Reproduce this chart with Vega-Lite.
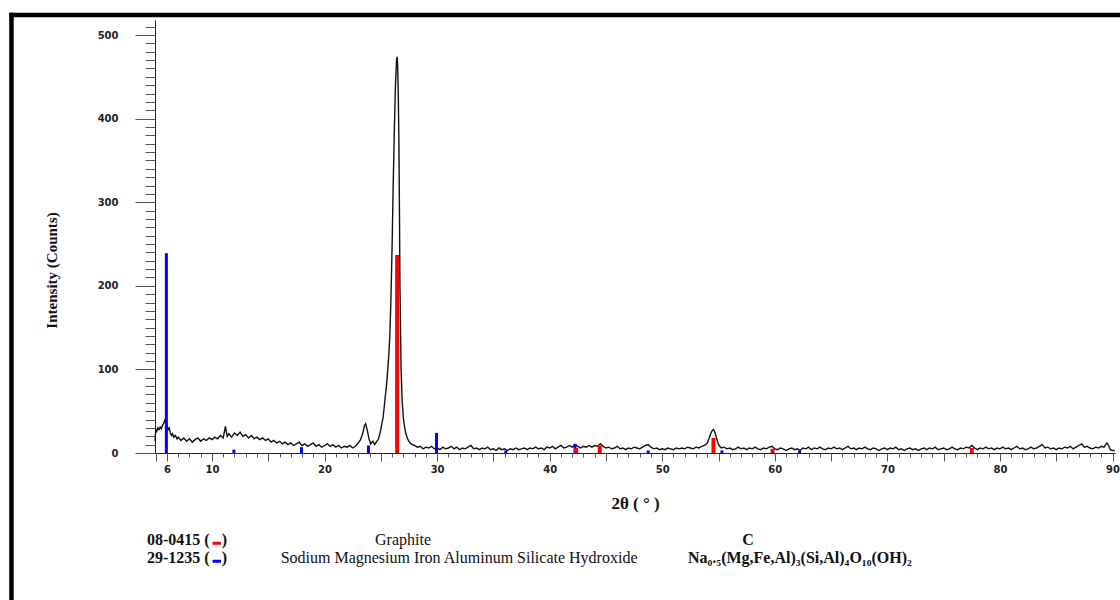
{
  "$schema": "https://vega.github.io/schema/vega-lite/v6.json",
  "width": 960,
  "height": 433,
  "autosize": {"type": "none"},
  "padding": {"left": 155, "top": 20, "right": 5, "bottom": 147},
  "background": "white",
  "config": {
    "view": {"stroke": null},
    "axis": {"grid": false, "domainColor": "#222", "domainWidth": 1, "tickColor": "#555", "tickWidth": 1, "labelFont": "DejaVu Sans", "labelFontWeight": "bold", "labelFontSize": 10, "labelColor": "#222"}
  },
  "resolve": {"axis": {"x": "independent", "y": "independent"}},
  "datasets": {
    "pattern": [
      {"angle":4.95,"counts":14},{"angle":5.0,"counts":29},{"angle":5.1,"counts":26},{"angle":5.2,"counts":30},{"angle":5.3,"counts":28},{"angle":5.4,"counts":31},{"angle":5.5,"counts":29},{"angle":5.6,"counts":33},{"angle":5.7,"counts":35},{"angle":5.8,"counts":39},{"angle":5.9,"counts":36},{"angle":6.0,"counts":33},{"angle":6.1,"counts":28},{"angle":6.2,"counts":30},{"angle":6.3,"counts":24},{"angle":6.4,"counts":21},{"angle":6.5,"counts":23},{"angle":6.6,"counts":19},{"angle":6.75,"counts":21},{"angle":6.9,"counts":17},
      {"angle":7.0,"counts":19},{"angle":7.25,"counts":15},{"angle":7.5,"counts":18},{"angle":7.75,"counts":14},{"angle":8.0,"counts":17},{"angle":8.25,"counts":13},{"angle":8.5,"counts":16},{"angle":8.75,"counts":18},{"angle":9.0,"counts":14},{"angle":9.25,"counts":17},{"angle":9.5,"counts":15},{"angle":9.75,"counts":18},{"angle":10.0,"counts":16},{"angle":10.25,"counts":19},{"angle":10.5,"counts":17},{"angle":10.75,"counts":21},{"angle":11.0,"counts":18},{"angle":11.2,"counts":32},{"angle":11.35,"counts":20},{"angle":11.5,"counts":23},{"angle":11.75,"counts":19},
      {"angle":12.0,"counts":24},{"angle":12.25,"counts":21},{"angle":12.5,"counts":25},{"angle":12.75,"counts":20},{"angle":13.0,"counts":22},{"angle":13.25,"counts":18},{"angle":13.5,"counts":21},{"angle":13.75,"counts":17},{"angle":14.0,"counts":19},{"angle":14.25,"counts":16},{"angle":14.5,"counts":18},{"angle":14.75,"counts":15},{"angle":15.0,"counts":17},{"angle":15.25,"counts":13},{"angle":15.5,"counts":15},{"angle":15.75,"counts":12},{"angle":16.0,"counts":14},{"angle":16.25,"counts":11},{"angle":16.5,"counts":13},{"angle":16.75,"counts":10},
      {"angle":17.0,"counts":12},{"angle":17.25,"counts":9},{"angle":17.5,"counts":11},{"angle":17.75,"counts":13},{"angle":18.0,"counts":9},{"angle":18.25,"counts":11},{"angle":18.5,"counts":8},{"angle":18.75,"counts":10},{"angle":19.0,"counts":12},{"angle":19.25,"counts":8},{"angle":19.5,"counts":10},{"angle":19.75,"counts":7},{"angle":20.0,"counts":9},{"angle":20.25,"counts":11},{"angle":20.5,"counts":8},{"angle":20.75,"counts":10},{"angle":21.0,"counts":7},{"angle":21.25,"counts":9},{"angle":21.5,"counts":6},{"angle":21.75,"counts":8},
      {"angle":22.0,"counts":7},{"angle":22.25,"counts":9},{"angle":22.5,"counts":6},{"angle":22.75,"counts":8},{"angle":23.0,"counts":12},{"angle":23.2,"counts":16},{"angle":23.4,"counts":24},{"angle":23.55,"counts":33},{"angle":23.65,"counts":35},{"angle":23.8,"counts":27},{"angle":23.95,"counts":17},{"angle":24.1,"counts":11},{"angle":24.3,"counts":14},{"angle":24.45,"counts":10},{"angle":24.6,"counts":13},{"angle":24.8,"counts":17},
      {"angle":25.0,"counts":28},{"angle":25.1,"counts":36},{"angle":25.2,"counts":42},{"angle":25.3,"counts":55},{"angle":25.4,"counts":68},{"angle":25.5,"counts":80},{"angle":25.6,"counts":97},{"angle":25.7,"counts":115},{"angle":25.8,"counts":140},{"angle":25.9,"counts":185},{"angle":26.0,"counts":246},{"angle":26.1,"counts":320},{"angle":26.2,"counts":386},{"angle":26.3,"counts":440},{"angle":26.4,"counts":470},{"angle":26.45,"counts":474},{"angle":26.5,"counts":462},{"angle":26.55,"counts":430},{"angle":26.6,"counts":380},{"angle":26.65,"counts":300},{"angle":26.7,"counts":200},{"angle":26.75,"counts":150},{"angle":26.8,"counts":100},{"angle":26.9,"counts":62},{"angle":27.0,"counts":42},{"angle":27.1,"counts":32},{"angle":27.2,"counts":25},{"angle":27.3,"counts":20},{"angle":27.45,"counts":15},{"angle":27.6,"counts":12},{"angle":27.8,"counts":10},
      {"angle":28.0,"counts":9},{"angle":28.25,"counts":7},{"angle":28.5,"counts":8},{"angle":28.75,"counts":5},{"angle":29.0,"counts":7},{"angle":29.25,"counts":6},{"angle":29.5,"counts":8},{"angle":29.75,"counts":5},{"angle":30.0,"counts":6},{"angle":30.25,"counts":4},{"angle":30.5,"counts":7},{"angle":30.75,"counts":5},{"angle":31.0,"counts":6},{"angle":31.25,"counts":8},{"angle":31.5,"counts":5},{"angle":31.75,"counts":7},{"angle":32.0,"counts":4},{"angle":32.25,"counts":6},{"angle":32.5,"counts":5},{"angle":32.75,"counts":7},
      {"angle":33.0,"counts":9},{"angle":33.25,"counts":5},{"angle":33.5,"counts":6},{"angle":33.75,"counts":4},{"angle":34.0,"counts":6},{"angle":34.25,"counts":5},{"angle":34.5,"counts":7},{"angle":34.75,"counts":4},{"angle":35.0,"counts":5},{"angle":35.25,"counts":3},{"angle":35.5,"counts":6},{"angle":35.75,"counts":4},{"angle":36.0,"counts":5},{"angle":36.25,"counts":3},{"angle":36.5,"counts":5},{"angle":36.75,"counts":4},{"angle":37.0,"counts":6},{"angle":37.25,"counts":4},{"angle":37.5,"counts":5},{"angle":37.75,"counts":6},
      {"angle":38.0,"counts":4},{"angle":38.25,"counts":6},{"angle":38.5,"counts":5},{"angle":38.75,"counts":7},{"angle":39.0,"counts":5},{"angle":39.25,"counts":6},{"angle":39.5,"counts":4},{"angle":39.75,"counts":7},{"angle":40.0,"counts":6},{"angle":40.25,"counts":8},{"angle":40.5,"counts":5},{"angle":40.75,"counts":7},{"angle":41.0,"counts":9},{"angle":41.25,"counts":6},{"angle":41.5,"counts":7},{"angle":41.75,"counts":9},{"angle":42.0,"counts":7},{"angle":42.25,"counts":10},{"angle":42.5,"counts":8},{"angle":42.75,"counts":6},
      {"angle":43.0,"counts":8},{"angle":43.25,"counts":7},{"angle":43.5,"counts":9},{"angle":43.75,"counts":7},{"angle":44.0,"counts":9},{"angle":44.25,"counts":8},{"angle":44.5,"counts":11},{"angle":44.75,"counts":8},{"angle":45.0,"counts":6},{"angle":45.25,"counts":7},{"angle":45.5,"counts":5},{"angle":45.75,"counts":6},{"angle":46.0,"counts":8},{"angle":46.25,"counts":5},{"angle":46.5,"counts":6},{"angle":46.75,"counts":4},{"angle":47.0,"counts":6},{"angle":47.25,"counts":5},{"angle":47.5,"counts":7},{"angle":47.75,"counts":6},
      {"angle":48.0,"counts":5},{"angle":48.25,"counts":7},{"angle":48.5,"counts":9},{"angle":48.75,"counts":10},{"angle":49.0,"counts":7},{"angle":49.25,"counts":5},{"angle":49.5,"counts":6},{"angle":49.75,"counts":4},{"angle":50.0,"counts":5},{"angle":50.25,"counts":4},{"angle":50.5,"counts":6},{"angle":50.75,"counts":5},{"angle":51.0,"counts":4},{"angle":51.25,"counts":6},{"angle":51.5,"counts":5},{"angle":51.75,"counts":6},{"angle":52.0,"counts":5},{"angle":52.25,"counts":7},{"angle":52.5,"counts":6},{"angle":52.75,"counts":5},
      {"angle":53.0,"counts":7},{"angle":53.25,"counts":6},{"angle":53.5,"counts":8},{"angle":53.75,"counts":9},{"angle":54.0,"counts":12},{"angle":54.15,"counts":17},{"angle":54.3,"counts":23},{"angle":54.45,"counts":27},{"angle":54.55,"counts":28},{"angle":54.65,"counts":26},{"angle":54.8,"counts":19},{"angle":54.95,"counts":12},{"angle":55.1,"counts":8},{"angle":55.25,"counts":6},{"angle":55.5,"counts":7},{"angle":55.75,"counts":5},
      {"angle":56.0,"counts":6},{"angle":56.25,"counts":4},{"angle":56.5,"counts":5},{"angle":56.75,"counts":7},{"angle":57.0,"counts":5},{"angle":57.25,"counts":6},{"angle":57.5,"counts":4},{"angle":57.75,"counts":6},{"angle":58.0,"counts":5},{"angle":58.25,"counts":7},{"angle":58.5,"counts":5},{"angle":58.75,"counts":4},{"angle":59.0,"counts":6},{"angle":59.25,"counts":5},{"angle":59.5,"counts":7},{"angle":59.75,"counts":8},{"angle":60.0,"counts":5},{"angle":60.25,"counts":4},{"angle":60.5,"counts":6},{"angle":60.75,"counts":5},
      {"angle":61.0,"counts":3},{"angle":61.25,"counts":5},{"angle":61.5,"counts":6},{"angle":61.75,"counts":4},{"angle":62.0,"counts":5},{"angle":62.25,"counts":3},{"angle":62.5,"counts":6},{"angle":62.75,"counts":5},{"angle":63.0,"counts":7},{"angle":63.25,"counts":4},{"angle":63.5,"counts":6},{"angle":63.75,"counts":5},{"angle":64.0,"counts":7},{"angle":64.25,"counts":5},{"angle":64.5,"counts":4},{"angle":64.75,"counts":6},{"angle":65.0,"counts":5},{"angle":65.25,"counts":7},{"angle":65.5,"counts":5},{"angle":65.75,"counts":6},
      {"angle":66.0,"counts":4},{"angle":66.25,"counts":6},{"angle":66.5,"counts":8},{"angle":66.75,"counts":5},{"angle":67.0,"counts":6},{"angle":67.25,"counts":4},{"angle":67.5,"counts":6},{"angle":67.75,"counts":5},{"angle":68.0,"counts":7},{"angle":68.25,"counts":5},{"angle":68.5,"counts":4},{"angle":68.75,"counts":6},{"angle":69.0,"counts":5},{"angle":69.25,"counts":3},{"angle":69.5,"counts":5},{"angle":69.75,"counts":6},{"angle":70.0,"counts":4},{"angle":70.25,"counts":6},{"angle":70.5,"counts":5},{"angle":70.75,"counts":7},
      {"angle":71.0,"counts":4},{"angle":71.25,"counts":5},{"angle":71.5,"counts":3},{"angle":71.75,"counts":5},{"angle":72.0,"counts":6},{"angle":72.25,"counts":4},{"angle":72.5,"counts":5},{"angle":72.75,"counts":3},{"angle":73.0,"counts":5},{"angle":73.25,"counts":6},{"angle":73.5,"counts":4},{"angle":73.75,"counts":6},{"angle":74.0,"counts":5},{"angle":74.25,"counts":7},{"angle":74.5,"counts":4},{"angle":74.75,"counts":5},{"angle":75.0,"counts":6},{"angle":75.25,"counts":4},{"angle":75.5,"counts":5},{"angle":75.75,"counts":7},
      {"angle":76.0,"counts":5},{"angle":76.25,"counts":4},{"angle":76.5,"counts":6},{"angle":76.75,"counts":5},{"angle":77.0,"counts":7},{"angle":77.25,"counts":6},{"angle":77.5,"counts":9},{"angle":77.75,"counts":6},{"angle":78.0,"counts":4},{"angle":78.25,"counts":6},{"angle":78.5,"counts":5},{"angle":78.75,"counts":7},{"angle":79.0,"counts":5},{"angle":79.25,"counts":6},{"angle":79.5,"counts":4},{"angle":79.75,"counts":6},{"angle":80.0,"counts":5},{"angle":80.25,"counts":7},{"angle":80.5,"counts":5},{"angle":80.75,"counts":6},
      {"angle":81.0,"counts":4},{"angle":81.25,"counts":6},{"angle":81.5,"counts":8},{"angle":81.75,"counts":5},{"angle":82.0,"counts":6},{"angle":82.25,"counts":4},{"angle":82.5,"counts":5},{"angle":82.75,"counts":7},{"angle":83.0,"counts":5},{"angle":83.25,"counts":6},{"angle":83.5,"counts":8},{"angle":83.75,"counts":10},{"angle":84.0,"counts":6},{"angle":84.25,"counts":7},{"angle":84.5,"counts":5},{"angle":84.75,"counts":6},{"angle":85.0,"counts":4},{"angle":85.25,"counts":6},{"angle":85.5,"counts":5},{"angle":85.75,"counts":7},
      {"angle":86.0,"counts":6},{"angle":86.25,"counts":8},{"angle":86.5,"counts":5},{"angle":86.75,"counts":7},{"angle":87.0,"counts":9},{"angle":87.25,"counts":11},{"angle":87.5,"counts":7},{"angle":87.75,"counts":8},{"angle":88.0,"counts":6},{"angle":88.25,"counts":5},{"angle":88.5,"counts":7},{"angle":88.75,"counts":6},{"angle":89.0,"counts":8},{"angle":89.25,"counts":7},{"angle":89.5,"counts":12},{"angle":89.65,"counts":9},{"angle":89.8,"counts":4},{"angle":90.0,"counts":3},{"angle":90.2,"counts":3}
    ],
    "sticks": [
      {"angle":5.95,"counts":239,"pattern":"29-1235"},
      {"angle":11.95,"counts":4,"pattern":"29-1235"},
      {"angle":17.95,"counts":7,"pattern":"29-1235"},
      {"angle":23.9,"counts":9,"pattern":"29-1235"},
      {"angle":29.95,"counts":24,"pattern":"29-1235"},
      {"angle":36.1,"counts":3,"pattern":"29-1235"},
      {"angle":42.25,"counts":11,"pattern":"29-1235"},
      {"angle":48.75,"counts":3,"pattern":"29-1235"},
      {"angle":55.3,"counts":3,"pattern":"29-1235"},
      {"angle":62.2,"counts":3,"pattern":"29-1235"},
      {"angle":26.45,"counts":237,"pattern":"08-0415"},
      {"angle":42.35,"counts":6,"pattern":"08-0415"},
      {"angle":44.45,"counts":9,"pattern":"08-0415"},
      {"angle":54.55,"counts":18,"pattern":"08-0415"},
      {"angle":59.8,"counts":5,"pattern":"08-0415"},
      {"angle":77.5,"counts":6,"pattern":"08-0415"}
    ],
    "legend": [
      {"pattern":"08-0415","phase":"Graphite","formula":"C"},
      {"pattern":"29-1235","phase":"Sodium Magnesium Iron Aluminum Silicate Hydroxide","formula":"Na₀.₅(Mg,Fe,Al)₃(Si,Al)₄O₁₀(OH)₂"}
    ]
  },
  "layer": [
    {
      "data": {"name": "pattern"},
      "mark": {"type": "line", "color": "#111", "strokeWidth": 1.4},
      "encoding": {
        "x": {
          "field": "angle", "type": "quantitative",
          "scale": {"domain": [4.94, 90.22], "nice": false, "zero": false},
          "axis": {
            "orient": "bottom",
            "values": [5,6,10,15,20,25,30,35,40,45,50,55,60,65,70,75,80,85,90],
            "tickCount": 500,
            "format": "d",
            "labelExpr": "datum.value % 10 === 0 || datum.value === 6 ? datum.label : ''",
            "labelOverlap": false,
            "labelFlush": false,
            "tickSize": 8,
            "labelPadding": 3,
            "title": "2θ ( ° )",
            "titleFont": "Liberation Serif",
            "titleFontSize": 17,
            "titleFontWeight": "bold",
            "titleColor": "#111",
            "titleY": 50,
            "titleBaseline": "middle"
          }
        },
        "y": {
          "field": "counts", "type": "quantitative",
          "scale": {"domain": [0, 518], "nice": false},
          "axis": {
            "orient": "left",
            "values": [0,100,200,300,400,500],
            "tickCount": 500,
            "format": "d",
            "labelOverlap": false,
            "labelFlush": false,
            "tickSize": 20,
            "labelPadding": 17,
            "title": "Intensity (Counts)",
            "titleFont": "Liberation Serif",
            "titleFontSize": 15,
            "titleFontWeight": "bold",
            "titleColor": "#111",
            "titleX": -104,
            "titleY": 250,
            "titleAngle": -90,
            "titleAlign": "center",
            "titleBaseline": "middle"
          }
        }
      }
    },
    {
      "data": {"name": "sticks"},
      "mark": {"type": "rule"},
      "encoding": {
        "x": {"field": "angle", "type": "quantitative", "axis": {
          "orient": "bottom",
          "values": [5,6,7,8,9,10,11,12,13,14,15,16,17,18,19,20,21,22,23,24,25,26,27,28,29,30,31,32,33,34,35,36,37,38,39,40,41,42,43,44,45,46,47,48,49,50,51,52,53,54,55,56,57,58,59,60,61,62,63,64,65,66,67,68,69,70,71,72,73,74,75,76,77,78,79,80,81,82,83,84,85,86,87,88,89,90],
          "tickCount": 500, "tickSize": 4, "labels": false, "domain": false, "title": null}},
        "y": {"field": "counts", "type": "quantitative", "axis": {
          "orient": "left",
          "values": [0,10,20,30,40,50,60,70,80,90,100,110,120,130,140,150,160,170,180,190,200,210,220,230,240,250,260,270,280,290,300,310,320,330,340,350,360,370,380,390,400,410,420,430,440,450,460,470,480,490,500,510],
          "tickCount": 500, "tickSize": 10, "labels": false, "domain": false, "title": null}},
        "y2": {"datum": 0},
        "color": {"field": "pattern", "type": "nominal", "scale": {"domain": ["08-0415", "29-1235"], "range": ["#ff0000", "#0000ff"]}, "legend": null},
        "strokeWidth": {"field": "pattern", "type": "nominal", "scale": {"domain": ["08-0415", "29-1235"], "range": [4, 3]}, "legend": null}
      }
    },
    {
      "data": {"values": [{}]},
      "mark": {"type": "rule", "color": "#000", "strokeWidth": 4.5},
      "encoding": {"x": {"datum": -7.81, "axis": null}, "y": {"datum": 526.8, "axis": null}, "y2": {"datum": -200}}
    },
    {
      "data": {"values": [{}]},
      "mark": {"type": "rule", "color": "#000", "strokeWidth": 4.5},
      "encoding": {"x": {"datum": -8.0, "axis": null}, "x2": {"datum": 100}, "y": {"datum": 524, "axis": null}}
    },
    {
      "data": {"name": "legend"},
      "transform": [{"filter": "datum.pattern === '08-0415'"}],
      "encoding": {"y": {"datum": -104, "axis": null}},
      "layer": [
        {"transform": [{"calculate": "datum.pattern + ' ('", "as": "code"}], "mark": {"type": "text", "align": "left", "baseline": "middle", "font": "Liberation Serif", "fontWeight": "bold", "fontSize": 16, "color": "#111"}, "encoding": {"x": {"datum": 4.23, "axis": null}, "text": {"field": "code"}}},
        {"mark": {"type": "rule", "strokeWidth": 3}, "encoding": {"x": {"datum": 10.05, "axis": null}, "x2": {"datum": 10.8}, "y": {"datum": -108, "axis": null}, "color": {"field": "pattern", "type": "nominal", "legend": null}}},
        {"mark": {"type": "text", "align": "left", "baseline": "middle", "font": "Liberation Serif", "fontWeight": "bold", "fontSize": 16, "color": "#111", "text": ")"}, "encoding": {"x": {"datum": 10.87, "axis": null}}},
        {"mark": {"type": "text", "align": "center", "baseline": "middle", "font": "Liberation Serif", "fontSize": 16, "color": "#111"}, "encoding": {"x": {"datum": 26.97, "axis": null}, "text": {"field": "phase"}}},
        {"mark": {"type": "text", "align": "center", "baseline": "middle", "font": "Liberation Serif", "fontWeight": "bold", "fontSize": 16, "color": "#111"}, "encoding": {"x": {"datum": 57.62, "axis": null}, "text": {"field": "formula"}}}
      ]
    },
    {
      "data": {"name": "legend"},
      "transform": [{"filter": "datum.pattern === '29-1235'"}],
      "encoding": {"y": {"datum": -125.5, "axis": null}},
      "layer": [
        {"transform": [{"calculate": "datum.pattern + ' ('", "as": "code"}], "mark": {"type": "text", "align": "left", "baseline": "middle", "font": "Liberation Serif", "fontWeight": "bold", "fontSize": 16, "color": "#111"}, "encoding": {"x": {"datum": 4.23, "axis": null}, "text": {"field": "code"}}},
        {"mark": {"type": "rule", "strokeWidth": 3}, "encoding": {"x": {"datum": 10.05, "axis": null}, "x2": {"datum": 10.8}, "y": {"datum": -129.5, "axis": null}, "color": {"field": "pattern", "type": "nominal", "legend": null}}},
        {"mark": {"type": "text", "align": "left", "baseline": "middle", "font": "Liberation Serif", "fontWeight": "bold", "fontSize": 16, "color": "#111", "text": ")"}, "encoding": {"x": {"datum": 10.87, "axis": null}}},
        {"mark": {"type": "text", "align": "center", "baseline": "middle", "font": "Liberation Serif", "fontSize": 16, "color": "#111"}, "encoding": {"x": {"datum": 31.95, "axis": null}, "text": {"field": "phase"}}},
        {"mark": {"type": "text", "align": "left", "baseline": "middle", "font": "Liberation Serif", "fontWeight": "bold", "fontSize": 16, "color": "#111"}, "encoding": {"x": {"datum": 52.29, "axis": null}, "text": {"field": "formula"}}}
      ]
    }
  ]
}
